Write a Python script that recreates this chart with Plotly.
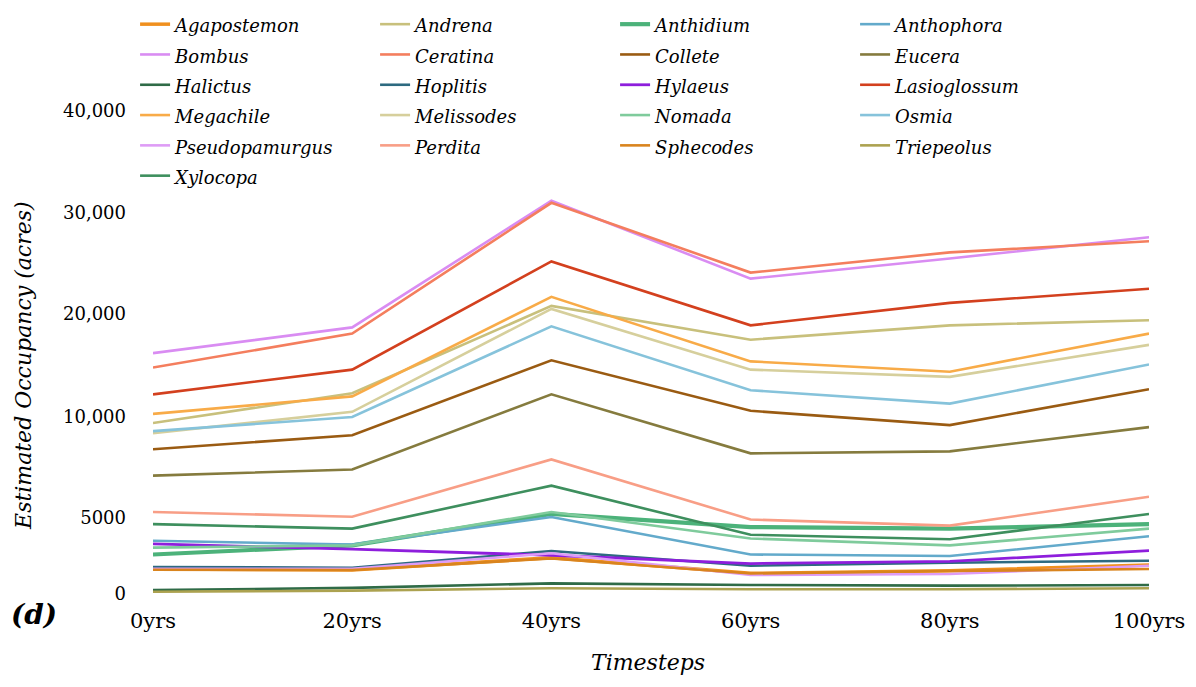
import numpy as np
import plotly.graph_objects as go

# ---------------- data (estimated occupancy, acres) ----------------
timesteps = [0, 20, 40, 60, 80, 100]
timestep_labels = ["0yrs", "20yrs", "40yrs", "60yrs", "80yrs", "100yrs"]

genera = ["Agapostemon", "Andrena", "Anthidium", "Anthophora", "Bombus", "Ceratina",
          "Collete", "Eucera", "Halictus", "Hoplitis", "Hylaeus", "Lasioglossum",
          "Megachile", "Melissodes", "Nomada", "Osmia", "Pseudopamurgus", "Perdita",
          "Sphecodes", "Triepeolus", "Xylocopa"]

agapostemon    = [1650, 1580, 2390, 1360, 1530, 1910]
andrena        = [9700, 12300, 20800, 17500, 18900, 19400]
anthidium      = [2600, 3200, 5200, 4400, 4300, 4600]
anthophora     = [3500, 3250, 5050, 2600, 2500, 3800]
bombus         = [16200, 18700, 31200, 23500, 25500, 27600]
ceratina       = [14800, 18100, 31000, 24100, 26100, 27200]
collete        = [8400, 9100, 15500, 10600, 9600, 12700]
eucera         = [7100, 7400, 12200, 8200, 8300, 9500]
halictus       = [260, 400, 700, 590, 550, 590]
hoplitis       = [1780, 1730, 2830, 1860, 2060, 2190]
hylaeus        = [3300, 2950, 2550, 2000, 2150, 2850]
lasioglossum   = [12200, 14600, 25200, 18900, 21100, 22500]
megachile      = [10300, 12000, 21700, 15400, 14400, 18100]
melissodes     = [9200, 10500, 20500, 14600, 13900, 17000]
nomada         = [3050, 3200, 5300, 3650, 3200, 4300]
osmia          = [9300, 10000, 18800, 12600, 11300, 15100]
pseudopamurgus = [1650, 1650, 2680, 1250, 1320, 1860]
perdita        = [5300, 5060, 7900, 4900, 4500, 6050]
sphecodes      = [1600, 1580, 2340, 1350, 1510, 1640]
triepeolus     = [150, 220, 380, 310, 310, 380]
xylocopa       = [4600, 4300, 6600, 3900, 3600, 5200]

series_values = [agapostemon, andrena, anthidium, anthophora, bombus, ceratina,
                 collete, eucera, halictus, hoplitis, hylaeus, lasioglossum,
                 megachile, melissodes, nomada, osmia, pseudopamurgus, perdita,
                 sphecodes, triepeolus, xylocopa]

y_tick_values = [0, 5000, 10000, 20000, 30000, 40000]
y_tick_labels = ["0", "5000", "10,000", "20,000", "30,000", "40,000"]

# ---------------- styling ----------------
colors = ["#F0901E", "#C8C07C", "#4CB27A", "#63AACB", "#D98CF2", "#F47E5E",
          "#9A5B12", "#857B3E", "#2F6B47", "#2D6A80", "#8E1EDC", "#D3401E",
          "#F8AB48", "#D6CF9C", "#7FCB9C", "#86C3DB", "#DE9CF6", "#F89E86",
          "#D9841E", "#ACA250", "#3E8F5E"]
widths = [3.5, 2.6, 4.2, 2.6, 2.6, 2.6, 2.6, 2.6, 2.6, 2.6, 2.8, 2.6,
          2.6, 2.6, 2.6, 2.6, 2.6, 2.6, 2.6, 2.6, 2.6]

# piecewise axis scale (the original axis is not linear)
scale_breaks = [0, 76, 177, 280, 381, 483]


def to_axis(v):
    return np.interp(np.asarray(v, dtype=float), y_tick_values, scale_breaks)


FONT = "DejaVu Serif"

fig = go.Figure()
for name, vals, col, w in zip(genera, series_values, colors, widths):
    fig.add_trace(go.Scatter(
        x=timesteps, y=to_axis(vals),
        name='<span style="font-size:18px">' + name + '</span>',
        mode="lines",
        line=dict(color=col, width=w),
        customdata=vals,
        hovertemplate="%{customdata:,}<extra>" + name + "</extra>",
    ))

fig.update_layout(
    width=1188, height=679,
    font=dict(family=FONT, color="black"),
    margin=dict(l=145, r=47, t=82, b=87, autoexpand=False),
    paper_bgcolor="white", plot_bgcolor="white",
    showlegend=True,
    legend=dict(
        orientation="h", x=-0.018, xanchor="left", y=1.1686, yanchor="top",
        entrywidth=195, entrywidthmode="pixels",
        font=dict(family=FONT, size=21, color="black", style="italic"),
        bgcolor="rgba(0,0,0,0)", traceorder="normal",
    ),
    xaxis=dict(
        range=[0, 100], tickvals=timesteps, ticktext=timestep_labels,
        showgrid=False, zeroline=False, showline=False, ticks="",
        ticklabelstandoff=6,
        tickfont=dict(family=FONT, size=21, color="black"),
    ),
    yaxis=dict(
        range=[-6, 504], tickvals=list(to_axis(y_tick_values)), ticktext=y_tick_labels,
        showgrid=False, zeroline=False, showline=False, ticks="",
        ticklabelstandoff=26,
        tickfont=dict(family=FONT, size=18, color="black"),
    ),
    annotations=[
        dict(text="Estimated Occupancy (acres)", xref="paper", yref="paper",
             x=-0.1295, y=0.459, textangle=-90, showarrow=False,
             font=dict(family=FONT, size=22, color="black", style="italic"),
             xanchor="center", yanchor="middle"),
        dict(text="Timesteps", xref="paper", yref="paper",
             x=0.497, y=-0.1235, showarrow=False,
             font=dict(family=FONT, size=22, color="black", style="italic"),
             xanchor="center", yanchor="middle"),
        dict(text="(d)", xref="paper", yref="paper",
             x=-0.1195, y=-0.0294, showarrow=False,
             font=dict(family=FONT, size=28, color="black", style="italic", weight="bold"),
             xanchor="center", yanchor="middle"),
    ],
)

fig.write_html("out.html")
